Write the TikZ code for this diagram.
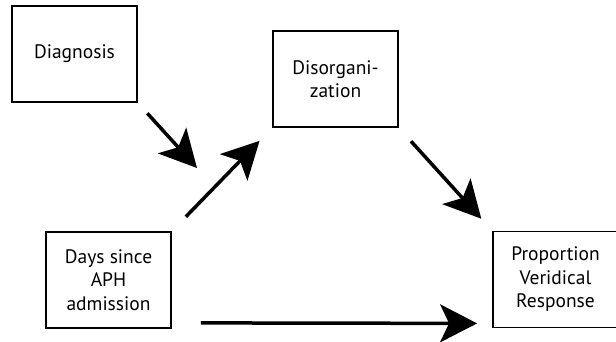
\documentclass[tikz,border=0pt]{standalone}
\usepackage{fontspec}
\setmainfont{PT Sans}
\usetikzlibrary{arrows.meta}

\begin{document}
\begin{tikzpicture}[x=1pt,y=-1pt, line width=3.5pt,
  box/.style={draw,line width=1.8pt,minimum width=125pt,minimum height=96pt,
    inner sep=0pt,align=center,font=\fontsize{19.5}{23.5}\selectfont},
  >={Stealth[length=37pt,width=38pt,inset=9pt]}]

\useasboundingbox (0,0) rectangle (616,341);

\node[box] (diag) at (74.5,54) {Diagnosis};
\node[box] (disorg) at (335.5,79) {Disorgani-\\zation};
\node[box] (days) at (108.5,280) {Days since\\APH\\admission};
\node[box] (prop) at (555.5,279.5) {Proportion\\Veridical\\Response};
\coordinate (mod) at (197,168);

\draw[->,shorten <=14pt] (diag.south east) -- (mod);
\draw[->,shorten <=20pt,shorten >=18pt] (days.north east) -- (disorg.south west);
\draw[->,shorten <=18pt,shorten >=16pt] (disorg.south east) -- (prop.north west);
\draw[->] ([shift={(29,-6)}]days.south east) -- ([shift={(-15,-5)}]prop.south west);

\end{tikzpicture}
\end{document}
